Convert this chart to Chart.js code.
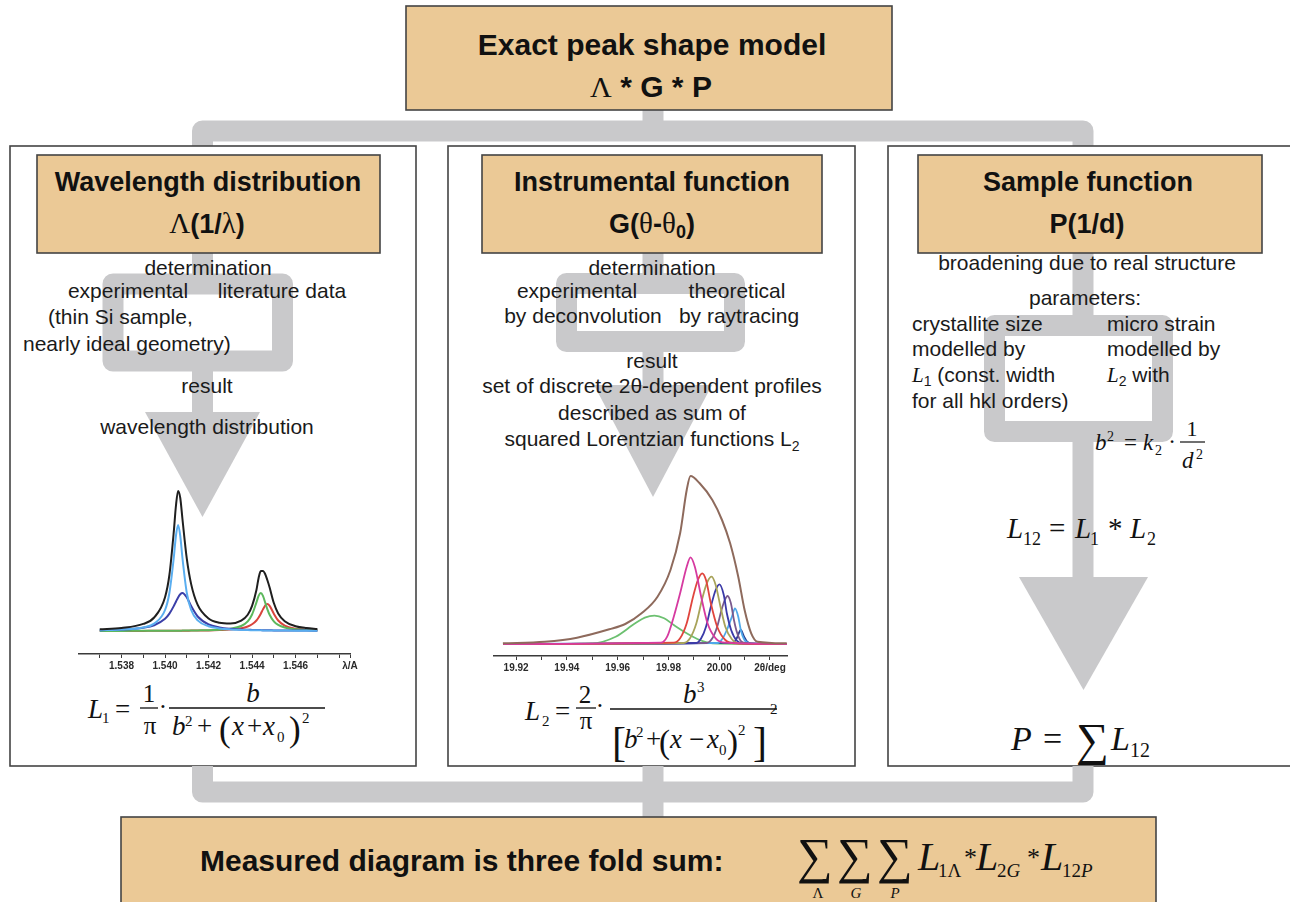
<!DOCTYPE html>
<html>
<head>
<meta charset="utf-8">
<script src="https://cdn.jsdelivr.net/npm/chart.js@4.4.1/dist/chart.umd.min.js"></script>
<style>
  html, body { margin: 0; padding: 0; background: #fff; }
  #stage { position: relative; width: 1290px; height: 902px; overflow: hidden; }
  #stage svg { position: absolute; left: 0; top: 0; }
  #stage canvas { position: absolute; }
  #waveChart { left: 78px; top: 480px; }
  #instChart { left: 493px; top: 470px; }
  .t { font-family: 'Liberation Sans', Arial, sans-serif; font-size: 21px; fill: #1a1a1a; }
  .b { font-family: 'Liberation Sans', Arial, sans-serif; font-weight: bold; fill: #111; }
  .m { font-family: 'Liberation Serif', 'Times New Roman', serif; fill: #111; }
  .i { font-style: italic; }
  .grey { fill: none; stroke: #c9c9cb; stroke-width: 21; stroke-linejoin: round; }
  .tri { fill: #c9c9cb; }
  .tan { fill: #ebc996; stroke: #444; stroke-width: 1.6; }
  .panel { fill: #fff; stroke: #444; stroke-width: 1.6; }
</style>
</head>
<body>
<div id="stage">
<svg width="1290" height="902" xmlns="http://www.w3.org/2000/svg">
  <!-- connectors top -->
  <path class="grey" d="M202.5 150 V131 H1083 V150"/>
  <path class="grey" d="M653 110 V131"/>

  <!-- panels -->
  <rect class="panel" x="10" y="146" width="406" height="620"/>
  <rect class="panel" x="448" y="146" width="407" height="620"/>
  <rect class="panel" x="888" y="146" width="420" height="620"/>

  <!-- connectors bottom -->
  <path class="grey" d="M202.5 766 V792 H1083 V766"/>
  <path class="grey" d="M653 766 V818"/>

  <rect class="tan" x="406" y="6" width="486" height="104"/>
  <rect class="tan" x="121" y="817" width="1035" height="100"/>

  <!-- left panel flow -->
  <path class="grey" d="M202.5 253 V284"/>
  <rect class="grey" x="113" y="284" width="169.5" height="77"/>
  <path class="grey" d="M202.5 361 V413"/>
  <polygon class="tri" points="145,412 260,412 202.5,517"/>

  <!-- middle panel flow -->
  <path class="grey" d="M653 253 V284"/>
  <rect class="grey" x="566.5" y="283.5" width="168" height="58"/>
  <path class="grey" d="M653 341 V386"/>
  <polygon class="tri" points="594,385 712,385 653,497"/>

  <!-- right panel flow -->
  <path class="grey" d="M1083 253 V326"/>
  <rect class="grey" x="994.5" y="325.5" width="168" height="106"/>
  <path class="grey" d="M1083 431 V578"/>
  <polygon class="tri" points="1019,577 1148,577 1083.5,690"/>

  <!-- header boxes -->
  <rect class="tan" x="37" y="155" width="343" height="98"/>
  <rect class="tan" x="482" y="155" width="340" height="98"/>
  <rect class="tan" x="918" y="155" width="344" height="98"/>

  <!-- title -->
  <text class="b" x="652" y="55" font-size="30" text-anchor="middle">Exact peak shape model</text>
  <text x="651" y="97" font-size="30" text-anchor="middle"><tspan class="m">Λ</tspan><tspan class="b"> * G * P</tspan></text>

  <!-- headers -->
  <text class="b" x="208" y="191" font-size="27" text-anchor="middle">Wavelength distribution</text>
  <text x="207" y="233" font-size="27" text-anchor="middle"><tspan class="m" font-size="29">Λ</tspan><tspan class="b">(1/</tspan><tspan class="m" font-size="29">λ</tspan><tspan class="b">)</tspan></text>

  <text class="b" x="652" y="191" font-size="27" text-anchor="middle">Instrumental function</text>
  <text x="652" y="233" font-size="27" text-anchor="middle"><tspan class="b">G(</tspan><tspan class="m" font-size="29">θ</tspan><tspan class="b">-</tspan><tspan class="m" font-size="29">θ</tspan><tspan class="b" font-size="18" dy="5">0</tspan><tspan class="b" dy="-5">)</tspan></text>

  <text class="b" x="1088" y="191" font-size="27" text-anchor="middle">Sample function</text>
  <text class="b" x="1087" y="233" font-size="27" text-anchor="middle">P(1/d)</text>

  <!-- left panel text -->
  <text class="t" x="208" y="275" text-anchor="middle">determination</text>
  <text class="t" x="128" y="298" text-anchor="middle">experimental</text>
  <text class="t" x="282" y="298" text-anchor="middle">literature data</text>
  <text class="t" x="48" y="324">(thin Si sample,</text>
  <text class="t" x="23" y="351">nearly ideal geometry)</text>
  <text class="t" x="207" y="393" text-anchor="middle">result</text>
  <text class="t" x="207" y="434" text-anchor="middle">wavelength distribution</text>

  <!-- middle panel text -->
  <text class="t" x="652" y="275" text-anchor="middle">determination</text>
  <text class="t" x="577" y="298" text-anchor="middle">experimental</text>
  <text class="t" x="737" y="298" text-anchor="middle">theoretical</text>
  <text class="t" x="583" y="323" text-anchor="middle">by deconvolution</text>
  <text class="t" x="739" y="323" text-anchor="middle">by raytracing</text>
  <text class="t" x="652" y="368" text-anchor="middle">result</text>
  <text class="t" x="652" y="393" text-anchor="middle">set of discrete 2θ-dependent profiles</text>
  <text class="t" x="652" y="420" text-anchor="middle">described as sum of</text>
  <text class="t" x="652" y="446" text-anchor="middle">squared Lorentzian functions L<tspan font-size="14" dy="5">2</tspan></text>

  <!-- right panel text -->
  <text class="t" x="1087" y="270" text-anchor="middle">broadening due to real structure</text>
  <text class="t" x="1085" y="305" text-anchor="middle">parameters:</text>
  <text class="t" x="912" y="331">crystallite size</text>
  <text class="t" x="912" y="356">modelled by</text>
  <text class="t" x="912" y="382"><tspan class="m i">L</tspan><tspan font-size="14" dy="4">1</tspan><tspan dy="-4"> (const. width</tspan></text>
  <text class="t" x="912" y="408">for all hkl orders)</text>
  <text class="t" x="1107" y="331">micro strain</text>
  <text class="t" x="1107" y="356">modelled by</text>
  <text class="t" x="1107" y="382"><tspan class="m i">L</tspan><tspan font-size="14" dy="4">2</tspan><tspan dy="-4"> with</tspan></text>

  <!-- b^2 = k2 * 1/d^2 -->
  <text class="m i" x="1095" y="450" font-size="23">b</text>
  <text class="m" x="1107" y="441" font-size="14">2</text>
  <text class="m" x="1124" y="450" font-size="23">=</text>
  <text class="m i" x="1143" y="450" font-size="23">k</text>
  <text class="m" x="1155" y="455" font-size="14">2</text>
  <text class="m" x="1172" y="449" font-size="23" text-anchor="middle">·</text>
  <text class="m" x="1192" y="436" font-size="22" text-anchor="middle">1</text>
  <line x1="1180" y1="442" x2="1205" y2="442" stroke="#111" stroke-width="1.2"/>
  <text class="m i" x="1182" y="468" font-size="23">d</text>
  <text class="m" x="1196" y="459" font-size="14">2</text>

  <!-- L12 = L1 * L2 -->
  <text class="m i" x="1007" y="538" font-size="29">L</text>
  <text class="m" x="1023" y="545" font-size="18">12</text>
  <text class="m" x="1049" y="538" font-size="29">=</text>
  <text class="m i" x="1075" y="538" font-size="29">L</text>
  <text class="m" x="1090" y="545" font-size="18">1</text>
  <text class="m" x="1108" y="538" font-size="29">*</text>
  <text class="m i" x="1130" y="538" font-size="29">L</text>
  <text class="m" x="1147" y="545" font-size="18">2</text>

  <!-- P = sum L12 -->
  <text class="m i" x="1011" y="750" font-size="34">P</text>
  <text class="m" x="1043" y="750" font-size="34">=</text>
  <text class="m" x="1076" y="755" font-size="46">∑</text>
  <text class="m i" x="1111" y="750" font-size="34">L</text>
  <text class="m" x="1130" y="757" font-size="20">12</text>

  <!-- L1 formula -->
  <text class="m i" x="88" y="718" font-size="27">L</text>
  <text class="m" x="102" y="723" font-size="15">1</text>
  <text class="m" x="115" y="718" font-size="27">=</text>
  <text class="m" x="149" y="702" font-size="25" text-anchor="middle">1</text>
  <line x1="140" y1="708" x2="158" y2="708" stroke="#111" stroke-width="1.3"/>
  <text class="m" x="150" y="734" font-size="25" text-anchor="middle">π</text>
  <text class="m" x="163" y="715" font-size="25" text-anchor="middle">·</text>
  <text class="m i" x="253" y="702" font-size="27" text-anchor="middle">b</text>
  <line x1="169" y1="708" x2="325" y2="708" stroke="#111" stroke-width="1.3"/>
  <text class="m i" x="172" y="735" font-size="27">b</text>
  <text class="m" x="185" y="726" font-size="15">2</text>
  <text class="m" x="197" y="735" font-size="27">+</text>
  <text class="m" x="219" y="741" font-size="35">(</text>
  <text class="m i" x="232" y="735" font-size="27">x</text>
  <text class="m" x="247" y="735" font-size="27">+</text>
  <text class="m i" x="263" y="735" font-size="27">x</text>
  <text class="m" x="277" y="742" font-size="15">0</text>
  <text class="m" x="289" y="741" font-size="35">)</text>
  <text class="m" x="302" y="723" font-size="15">2</text>

  <!-- L2 formula -->
  <text class="m i" x="525" y="720" font-size="27">L</text>
  <text class="m" x="542" y="726" font-size="15">2</text>
  <text class="m" x="555" y="720" font-size="27">=</text>
  <text class="m" x="585" y="703" font-size="25" text-anchor="middle">2</text>
  <line x1="576" y1="708" x2="596" y2="708" stroke="#111" stroke-width="1.3"/>
  <text class="m" x="586" y="729" font-size="25" text-anchor="middle">π</text>
  <text class="m" x="600" y="714" font-size="25" text-anchor="middle">·</text>
  <text class="m i" x="683" y="703" font-size="27">b</text>
  <text class="m" x="697" y="692" font-size="15">3</text>
  <line x1="610" y1="709" x2="777" y2="709" stroke="#111" stroke-width="1.3"/>
  <text class="m" x="612" y="756" font-size="42">[</text>
  <text class="m i" x="624" y="748" font-size="27">b</text>
  <text class="m" x="636" y="737" font-size="15">2</text>
  <text class="m" x="646" y="748" font-size="27">+</text>
  <text class="m" x="659" y="753" font-size="33">(</text>
  <text class="m i" x="670" y="748" font-size="27">x</text>
  <text class="m" x="689" y="748" font-size="27">−</text>
  <text class="m i" x="707" y="748" font-size="27">x</text>
  <text class="m" x="719" y="755" font-size="15">0</text>
  <text class="m" x="727" y="753" font-size="33">)</text>
  <text class="m" x="738" y="735" font-size="15">2</text>
  <text class="m" x="753" y="756" font-size="42">]</text>
  <text class="m" x="770" y="714" font-size="15">2</text>

  <!-- bottom box -->
  <text class="b" x="200" y="871" font-size="30">Measured diagram is three fold sum:</text>
  <text class="m" x="797" y="873" font-size="50">∑</text>
  <text class="m" x="837" y="873" font-size="50">∑</text>
  <text class="m" x="877" y="873" font-size="50">∑</text>
  <text class="m" x="818" y="898" font-size="15" text-anchor="middle">Λ</text>
  <text class="m i" x="856" y="898" font-size="15" text-anchor="middle">G</text>
  <text class="m i" x="895" y="898" font-size="15" text-anchor="middle">P</text>
  <text class="m i" x="918" y="870" font-size="40">L</text>
  <text class="m" x="938" y="877" font-size="19">1Λ</text>
  <text class="m" x="964" y="866" font-size="26">*</text>
  <text class="m i" x="976" y="870" font-size="40">L</text>
  <text class="m" x="997" y="877" font-size="19">2<tspan class="i">G</tspan></text>
  <text class="m" x="1027" y="866" font-size="26">*</text>
  <text class="m i" x="1041" y="870" font-size="40">L</text>
  <text class="m" x="1062" y="877" font-size="19">12<tspan class="i">P</tspan></text>
</svg>
<canvas id="waveChart" width="292" height="198"></canvas>
<canvas id="instChart" width="314" height="210"></canvas>
</div>

<script>
// wavelength distribution (left panel), heights above the baseline
const waveX = [1.5370, 1.5380, 1.5390, 1.5395, 1.5400, 1.5402, 1.5404, 1.5405, 1.5406, 1.5407, 1.5408,
  1.5410, 1.5412, 1.5415, 1.5420, 1.5425, 1.5430, 1.5435, 1.5438, 1.5440, 1.5442, 1.5443,
  1.5444, 1.5445, 1.5446, 1.5447, 1.5448, 1.5450, 1.5452, 1.5455, 1.5460, 1.5465, 1.5470];
const waveTotal = [1.7, 3.0, 7.1, 13.5, 33.8, 56, 98.8, 125, 140, 133, 112,
  72.4, 46.9, 26.1, 12.6, 8.3, 7.5, 10.3, 16.2, 25.1, 41, 53,
  60, 60, 57, 51, 44, 28, 17.6, 9.8, 4.8, 2.9, 2.0];
const waveA1Narrow = [0.7, 1.4, 3.6, 7.4, 21, 38, 73, 95, 106, 95, 73,
  38, 21, 10.6, 4.7, 2.6, 1.6, 1.1, 0.9, 0.8, 0.7, 0.7,
  0.7, 0.6, 0.6, 0.6, 0.5, 0.5, 0.5, 0.4, 0.3, 0.3, 0.2];
const waveA1Wide = [0.8, 1.4, 3.3, 5.8, 12.2, 17.4, 24.9, 29.3, 33.6, 36.8, 38,
  33.6, 24.9, 14.5, 6.6, 3.6, 2.2, 1.5, 1.2, 1.1, 1.0, 0.9,
  0.9, 0.8, 0.8, 0.7, 0.7, 0.6, 0.6, 0.5, 0.4, 0.4, 0.3];
const waveA2Narrow = [0.1, 0.1, 0.2, 0.2, 0.2, 0.3, 0.3, 0.3, 0.3, 0.3, 0.4,
  0.4, 0.5, 0.6, 0.8, 1.3, 2.2, 5.0, 9.6, 16.5, 28.6, 35.1,
  38, 35.1, 28.6, 21.9, 16.5, 9.6, 6.1, 3.5, 1.7, 1.0, 0.7];
const waveA2Wide = [0.1, 0.1, 0.1, 0.2, 0.2, 0.2, 0.2, 0.2, 0.3, 0.3, 0.3,
  0.3, 0.4, 0.4, 0.6, 0.9, 1.4, 2.7, 4.5, 6.7, 10.5, 13.5,
  17.3, 21.6, 25.4, 27, 25.4, 17.3, 10.5, 5.4, 2.3, 1.3, 0.8];
const waveTicks = [1.537, 1.538, 1.539, 1.540, 1.541, 1.542, 1.543, 1.544, 1.545, 1.546, 1.547, 1.548, 1.5485];
const waveTickLabels = ["", "1.538", "", "1.540", "", "1.542", "", "1.544", "", "1.546", "", "", "λ/A"];

// instrumental function (middle panel)
const instSumX = [19.9148, 19.9313, 19.944, 19.9567, 19.963, 19.9694, 19.9757, 19.9808, 19.9846, 19.9872,
  19.9887, 19.9923, 19.9973, 20.0011, 20.0043, 20.0075, 20.010, 20.0126, 20.0151, 20.0266];
const instSumY = [0.7, 2.3, 6.3, 14.7, 20, 30.7, 47.3, 74, 110.7, 154,
  168, 160.7, 144, 124, 100.7, 67.3, 34, 10.7, 2.3, 0.7];
const instGreenX = [19.915, 19.9502, 19.9592, 19.9669, 19.9707, 19.9745, 19.9783, 19.9821, 19.9872, 19.9923, 19.9973, 20.027];
const instGreenY = [0, 0.7, 7.3, 20.7, 26.3, 28.3, 25.7, 19, 10.7, 4, 0.7, 0];
const instPinkX = [19.915, 19.977, 19.9795, 19.9821, 19.9846, 19.9872, 19.9887, 19.9904, 19.9929, 19.9954, 19.9986, 20.0024, 20.027];
const instPinkY = [0, 1.3, 7.3, 27.3, 50.7, 77.3, 86.7, 77.3, 47.3, 20.7, 5.7, 1.3, 0];
const instRedX = [19.915, 19.9821, 19.9846, 19.9872, 19.9897, 19.9916, 19.9933, 19.9948, 19.9967, 19.9992, 20.0024, 20.0062, 20.027];
const instRedY = [0, 1.3, 5.7, 20.7, 47.3, 64, 70.7, 64, 40.7, 17.3, 4, 0.7, 0];
const instOliveX = [19.915, 19.986, 19.9885, 19.991, 19.9935, 19.9954, 19.997, 19.9986, 20.0005, 20.0024, 20.005, 20.0075, 20.027];
const instOliveY = [0, 1, 5.7, 20.7, 47.3, 62.3, 67.3, 59, 37.3, 17.3, 4.7, 0.7, 0];
const instNavyX = [19.915, 19.991, 19.9929, 19.9948, 19.9967, 19.9986, 20.0001, 20.0018, 20.003, 20.0047, 20.0069, 20.0094, 20.027];
const instNavyY = [0, 1, 5.7, 17.3, 37.3, 54, 59.7, 49, 30.7, 14, 3.3, 0.7, 0];
const instPurpleX = [19.915, 19.995, 19.9973, 19.9992, 20.0009, 20.0022, 20.0033, 20.0046, 20.0058, 20.0071, 20.0088, 20.0113, 20.027];
const instPurpleY = [0, 1, 5.7, 17.3, 34, 44, 48, 40.7, 24, 10.7, 2.3, 0.7, 0];
const instSkyX = [19.915, 19.9995, 20.0014, 20.003, 20.005, 20.0062, 20.0075, 20.0085, 20.0098, 20.0119, 20.027];
const instSkyY = [0, 1, 5.7, 14, 27.3, 35.7, 27.3, 14, 4.7, 0.7, 0];
const instSmallX = [19.915, 20.0056, 20.0069, 20.0085, 20.0098, 20.011, 20.0126, 20.027];
const instSmallY = [0, 1.3, 5.7, 14, 7.3, 2.3, 0.7, 0];
const instTicks = [19.92, 19.93, 19.94, 19.95, 19.96, 19.97, 19.98, 19.99, 20.00, 20.01, 20.02];
const instTickLabels = ["19.92", "", "19.94", "", "19.96", "", "19.98", "", "20.00", "", "2θ/deg"];

function serie(xs, ys, color, width) {
  return {
    data: xs.map((x, i) => ({ x: x, y: ys[i] })),
    borderColor: color,
    borderWidth: width || 2,
    fill: false,
  };
}

function desenhar(id, datasets, xMin, xMax, yMin, yMax, ticks, labels) {
  new Chart(document.getElementById(id), {
    type: "line",
    data: { datasets: datasets },
    options: {
      responsive: false,
      animation: false,
      layout: { padding: { right: 20 } },
      plugins: { legend: { display: false }, tooltip: { enabled: false } },
      elements: {
        point: { radius: 0 },
        line: { cubicInterpolationMode: "monotone" },
      },
      scales: {
        x: {
          type: "linear",
          min: xMin,
          max: xMax,
          afterBuildTicks: (axis) => { axis.ticks = ticks.map((v) => ({ value: v })); },
          afterFit: (axis) => { axis.height = 24; axis.paddingLeft = 0; axis.paddingRight = 0; },
          grid: { drawOnChartArea: false, color: "#3a3a3a", tickLength: 4 },
          border: { color: "#3a3a3a", width: 1.6 },
          ticks: {
            autoSkip: false,
            maxRotation: 0,
            padding: 2,
            color: "#2a2a2a",
            font: { family: "Liberation Sans", size: 10, weight: "bold" },
            callback: (v, i) => labels[i],
          },
        },
        y: { display: false, min: yMin, max: yMax },
      },
    },
  });
}

desenhar("waveChart", [
  serie(waveX, waveTotal, "#1f1f1f", 2),
  serie(waveX, waveA1Narrow, "#5aaef0", 2),
  serie(waveX, waveA1Wide, "#3b3fa8", 2),
  serie(waveX, waveA2Narrow, "#5cb85c", 2),
  serie(waveX, waveA2Wide, "#d9453d", 2),
], 1.536, 1.5485, -23, 151, waveTicks, waveTickLabels);

desenhar("instChart", [
  serie(instSumX, instSumY, "#8e6a5c", 2),
  serie(instPinkX, instPinkY, "#d63aa0", 1.8),
  serie(instRedX, instRedY, "#e0453e", 1.8),
  serie(instOliveX, instOliveY, "#a8a35a", 1.8),
  serie(instNavyX, instNavyY, "#3b3aa8", 1.8),
  serie(instPurpleX, instPurpleY, "#7a5a8e", 1.8),
  serie(instSkyX, instSkyY, "#4fa8ea", 1.8),
  serie(instSmallX, instSmallY, "#2c3f90", 1.8),
  serie(instGreenX, instGreenY, "#6cc070", 1.8),
], 19.9109, 20.0267, -12, 174, instTicks, instTickLabels);
</script>
</body>
</html>
